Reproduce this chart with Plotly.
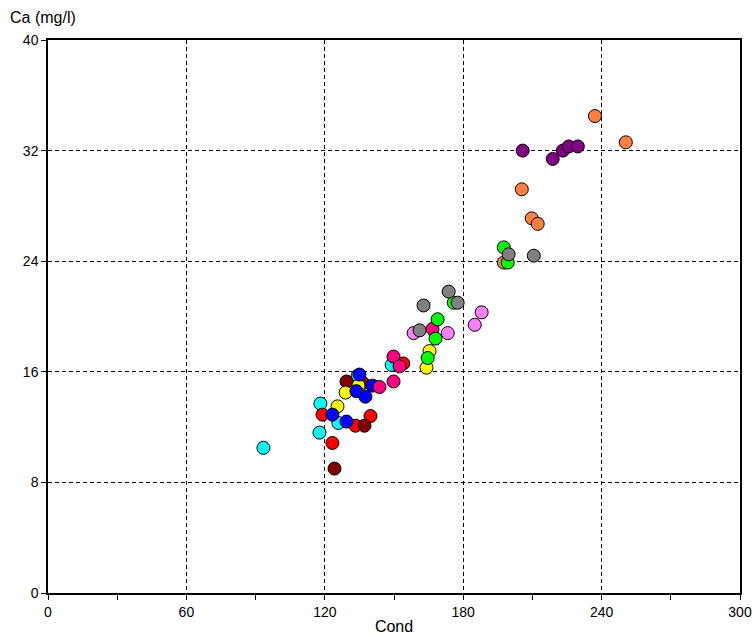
import plotly.graph_objects as go

# Data per colour group (Cond, Ca)
cyan_x = [93.4, 118.1, 117.7, 125.9, 134.2, 149.0]
cyan_y = [10.5, 13.7, 11.6, 12.3, 15.7, 16.5]
red_x = [119.0, 123.3, 139.8, 133.3, 154.0]
red_y = [12.9, 10.85, 12.8, 12.1, 16.6]
maroon_x = [124.2, 137.2, 129.4, 136.5]
maroon_y = [9.0, 12.1, 15.3, 15.2]
blue_x = [123.3, 129.4, 135.0, 140.7, 133.7, 137.6]
blue_y = [12.9, 12.4, 15.8, 15.0, 14.6, 14.2]
yellow_x = [125.5, 129.0, 134.6, 164.1, 165.4]
yellow_y = [13.5, 14.5, 15.0, 16.3, 17.5]
pink_x = [149.8, 152.4, 149.8, 143.7, 166.7]
pink_y = [17.1, 16.4, 15.3, 14.9, 19.1]
green_x = [168.9, 168.0, 164.6, 197.6, 199.3, 175.9]
green_y = [19.8, 18.4, 17.0, 25.0, 23.9, 21.0]
orange_x = [197.6, 205.4, 209.7, 212.3, 237.1, 250.5]
orange_y = [23.9, 29.2, 27.1, 26.7, 34.5, 32.6]
purple_x = [205.8, 218.8, 223.2, 225.8, 229.7]
purple_y = [32.0, 31.4, 32.0, 32.3, 32.3]
gray_x = [210.6, 199.7, 162.8, 173.7, 177.6, 161.1]
gray_y = [24.4, 24.5, 20.8, 21.8, 21.0, 19.0]
violet_x = [188.0, 185.0, 158.5, 173.3]
violet_y = [20.3, 19.4, 18.8, 18.8]

groups = [
    (cyan_x, cyan_y, "#00FFFF"),
    (red_x, red_y, "#FF0000"),
    (maroon_x, maroon_y, "#800000"),
    (yellow_x, yellow_y, "#FFFF00"),
    (blue_x, blue_y, "#0000FF"),
    (pink_x, pink_y, "#FF0080"),
    (violet_x, violet_y, "#FF80FF"),
    (orange_x, orange_y, "#FF8040"),
    (green_x, green_y, "#00FF00"),
    (gray_x, gray_y, "#808080"),
    (purple_x, purple_y, "#800080"),
]

x_ticks = [0, 60, 120, 180, 240, 300]
y_ticks = [0, 8, 16, 24, 32, 40]

fig = go.Figure()
for gx, gy, col in groups:
    fig.add_trace(go.Scatter(
        x=gx, y=gy, mode="markers",
        marker=dict(size=13, color=col, line=dict(color="black", width=1)),
        showlegend=False, hoverinfo="skip"))

font = dict(family="Liberation Sans, Arial, sans-serif", size=14, color="black")

fig.update_layout(
    width=755, height=643,
    margin=dict(l=48, r=15, t=40, b=50, autoexpand=False),
    paper_bgcolor="white", plot_bgcolor="white",
    font=font,
    xaxis=dict(range=[0, 300], tickvals=x_ticks, ticktext=[str(v) for v in x_ticks],
               automargin=False,
               showgrid=True, gridcolor="black", gridwidth=1, griddash="4px,3px",
               zeroline=False, showline=True, linecolor="black", linewidth=1.5, mirror=True,
               ticks="outside", ticklen=5, tickcolor="black",
               minor=dict(dtick=30, tick0=0, ticks="outside", ticklen=5, tickcolor="black", showgrid=False),
               title=dict(text="Cond", font=dict(size=16), standoff=2),
               fixedrange=True),
    yaxis=dict(range=[0, 40], tickvals=y_ticks, ticktext=[str(v) for v in y_ticks],
               automargin=False,
               showgrid=True, gridcolor="black", gridwidth=1, griddash="4px,3px",
               zeroline=False, showline=True, linecolor="black", linewidth=1.5, mirror=True,
               ticks="outside", ticklen=5, tickcolor="black",
               fixedrange=True),
    annotations=[dict(text="Ca (mg/l)", xref="paper", yref="paper", x=-0.058, y=1.04,
                      xanchor="left", yanchor="middle", showarrow=False,
                      font=dict(size=16))],
)

fig.write_html("out.html")
